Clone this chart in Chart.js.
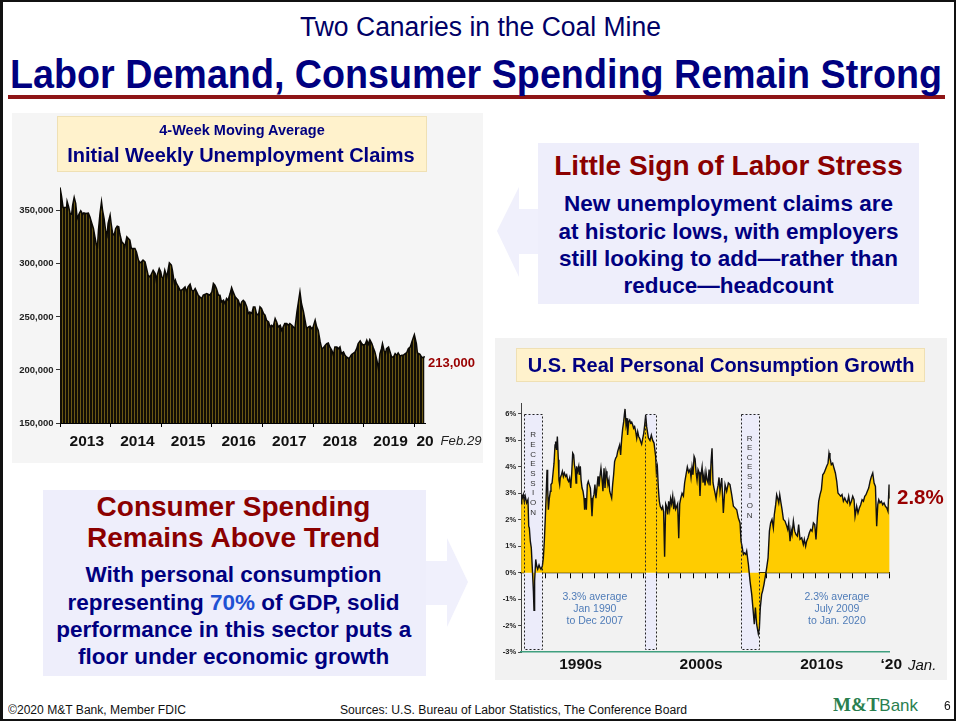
<!DOCTYPE html>
<html><head><meta charset="utf-8">
<script src="https://cdn.jsdelivr.net/npm/chart.js@4.4.1/dist/chart.umd.min.js"></script>
<style>
html,body{margin:0;padding:0;background:#fff;}
body{width:957px;height:722px;position:relative;overflow:hidden;font-family:"Liberation Sans",Arial,sans-serif;}
.abs{position:absolute;}
.t{position:absolute;white-space:nowrap;}
</style></head><body>
<div class="abs" style="left:0;top:0;width:956px;height:721px;border:2px solid #111;border-left-width:3px;box-sizing:border-box;"></div>
<div class="abs" style="left:8px;top:95px;width:937px;height:4px;background:#8e1516;"></div>
<div class="abs" style="left:12px;top:113px;width:471px;height:350px;background:#f5f5f5;"></div>
<div class="abs" style="left:57px;top:116px;width:370px;height:56px;background:#fff2cc;border:1px solid #efe0b4;box-sizing:border-box"></div>
<div class="abs" style="left:495px;top:338px;width:452px;height:342px;background:#f2f2f2;"></div>
<div class="abs" style="left:516px;top:348px;width:409px;height:34px;background:#fff2cc;border:1px solid #efe0b4;box-sizing:border-box"></div>
<div class="abs" style="left:538px;top:143px;width:381px;height:161px;background:#eeeefb;"></div>
<div class="abs" style="left:43px;top:490px;width:383px;height:186px;background:#eeeefb;"></div>
<svg class="abs" style="left:0;top:0" width="957" height="722">
<polygon points="538,209 519,209 519,187 497,231 519,277 519,254 538,254" fill="#f0f0fc"/>
<polygon points="426,561 447,561 447,538 468,582 447,627 447,605 426,605" fill="#f0f0fc"/>
</svg>
<canvas id="c1" width="471" height="350" style="position:absolute;left:12px;top:113px"></canvas>
<canvas id="c2" width="452" height="342" style="position:absolute;left:495px;top:338px"></canvas>
<script>
// ---------------- DATA ----------------
// Initial weekly unemployment claims, 4-week moving average (thousands), dates as decimal years
const claimsDates = [2013.00,2013.03,2013.06,2013.13,2013.14,2013.17,2013.20,2013.23,2013.25,2013.28,2013.31,2013.34,2013.38,2013.41,2013.45,2013.47,2013.51,2013.56,2013.59,2013.62,2013.66,2013.69,2013.72,2013.74,2013.76,2013.79,2013.82,2013.84,2013.87,2013.90,2013.93,2013.95,2013.99,
2014.01,2014.04,2014.07,2014.10,2014.13,2014.16,2014.18,2014.22,2014.25,2014.28,2014.32,2014.35,2014.38,2014.41,2014.48,2014.51,2014.55,2014.58,2014.61,2014.64,2014.68,2014.71,2014.74,2014.78,2014.81,2014.84,2014.88,2014.90,2014.92,2014.96,2014.99,
2015.01,2015.04,2015.07,2015.11,2015.16,2015.20,2015.22,2015.26,2015.28,2015.30,2015.34,2015.37,2015.40,2015.44,2015.47,2015.50,2015.53,2015.57,2015.60,2015.63,2015.67,2015.70,2015.73,2015.76,2015.80,2015.83,2015.90,2015.96,
2016.00,2016.03,2016.06,2016.09,2016.13,2016.16,2016.19,2016.23,2016.26,2016.29,2016.32,2016.36,2016.39,2016.42,2016.46,2016.49,2016.52,2016.56,2016.59,2016.62,2016.65,2016.69,2016.72,2016.75,2016.79,2016.82,2016.85,2016.88,2016.92,2016.95,2016.98,
2017.02,2017.05,2017.08,2017.12,2017.15,2017.18,2017.21,2017.25,2017.28,2017.31,2017.35,2017.38,2017.41,2017.44,2017.48,2017.51,2017.54,2017.58,2017.61,2017.64,2017.68,2017.71,2017.74,2017.77,2017.81,2017.84,2017.87,2017.91,2017.94,2017.97,
2018.00,2018.04,2018.07,2018.10,2018.14,2018.17,2018.20,2018.24,2018.27,2018.30,2018.33,2018.37,2018.40,2018.43,2018.47,2018.50,2018.53,2018.56,2018.60,2018.63,2018.66,2018.70,2018.73,2018.76,2018.80,2018.83,2018.86,2018.89,2018.93,2018.96,2018.99,
2019.03,2019.06,2019.09,2019.12,2019.16,2019.19,2019.22,2019.26,2019.29,2019.32,2019.35,2019.37,2019.40,2019.43,2019.45,2019.49,2019.52,2019.55,2019.59,2019.62,2019.65,2019.68,2019.72,2019.75,2019.78,2019.82,2019.85,2019.88,2019.92,2019.95,2019.98,
2020.00,2020.04,2020.06,2020.09,2020.11,2020.14,2020.18,2020.20];
const claimsK = [372.0,363.9,353.2,353.2,358.8,353.8,347.5,346.9,355.4,362.6,357.0,342.8,347.5,350.0,346.6,348.1,347.5,347.8,344.4,339.6,333.4,325.5,317.6,316.1,331.8,347.5,358.5,350.7,342.8,331.8,327.1,338.1,345.9,
338.1,328.6,327.1,333.4,335.6,334.9,328.6,320.8,319.2,316.1,325.5,323.9,322.3,314.5,314.5,311.3,303.5,301.0,301.9,303.5,301.9,295.6,289.3,287.7,290.9,294.0,290.9,284.6,289.3,295.6,292.5,
287.7,286.2,294.0,287.7,301.0,298.8,294.0,281.5,284.6,281.5,278.3,275.2,275.2,276.7,278.3,273.6,278.3,280.8,275.8,273.6,276.7,273.6,270.5,268.9,267.3,270.5,272.0,270.5,
273.6,281.5,279.9,276.7,270.5,270.5,264.2,265.7,262.6,267.3,265.7,272.0,277.7,273.6,268.9,267.3,265.7,260.1,264.2,265.7,264.2,259.4,253.2,254.7,253.2,259.4,259.4,253.2,251.6,259.4,257.9,
253.2,251.6,246.9,245.3,240.6,242.1,240.6,248.4,245.3,240.6,242.1,237.4,240.6,243.7,243.7,242.1,243.7,242.1,240.6,239.0,254.7,264.2,273.6,262.6,254.7,246.9,239.0,240.6,241.2,239.0,
240.6,246.9,240.6,237.4,226.4,220.1,220.8,223.3,224.9,225.5,221.7,218.6,213.8,221.7,221.7,220.1,221.7,215.4,217.0,213.8,212.3,210.7,212.3,214.5,216.0,217.0,220.1,224.9,227.4,224.9,223.3,
224.2,228.0,224.2,228.6,224.9,220.8,217.0,209.1,201.3,215.4,220.1,224.9,218.6,215.4,220.1,221.7,217.0,212.3,212.3,215.4,213.8,216.0,212.9,213.8,213.8,215.4,216.4,220.1,221.7,226.4,230.5,
233.3,224.9,216.0,215.4,214.8,212.3,211.3,213.0];
const claimsYTicks = [150,200,250,300,350];
const claimsTickYears = [2013,2014,2015,2016,2017,2018,2019,2020];
const claimsYearLabels = ['2013','2014','2015','2016','2017','2018','2019','20'];
const claimsLabelPos = [2013.53,2014.53,2015.53,2016.53,2017.53,2018.53,2019.53,2020.21];

// U.S. real personal consumption growth (% y/y), dates as decimal years
const consDates = [1990.00,1990.05,1990.10,1990.18,1990.26,1990.34,1990.45,1990.56,1990.62,1990.67,1990.75,1990.83,1990.91,1991.00,1991.05,1991.10,1991.19,1991.27,1991.35,1991.46,1991.54,1991.62,1991.73,1991.81,1991.89,1991.97,
1992.05,1992.11,1992.16,1992.22,1992.30,1992.38,1992.43,1992.52,1992.60,1992.68,1992.76,1992.81,1992.89,1992.95,1993.03,1993.08,1993.14,1993.19,1993.28,1993.36,1993.44,1993.52,1993.63,1993.71,1993.79,1993.87,1993.95,
1994.04,1994.12,1994.20,1994.28,1994.34,1994.41,1994.47,1994.52,1994.60,1994.69,1994.74,1994.82,1994.88,1994.96,1995.04,1995.12,1995.17,1995.23,1995.31,1995.39,1995.47,1995.55,1995.64,1995.69,1995.77,1995.85,1995.93,
1996.01,1996.09,1996.17,1996.26,1996.34,1996.42,1996.50,1996.58,1996.66,1996.75,1996.83,1996.91,1996.99,1997.07,1997.15,1997.21,1997.29,1997.37,1997.45,1997.53,1997.61,1997.70,1997.78,1997.86,1997.94,
1998.02,1998.10,1998.19,1998.27,1998.35,1998.40,1998.46,1998.54,1998.62,1998.67,1998.76,1998.84,1998.92,1999.00,1999.08,1999.16,1999.24,1999.33,1999.41,1999.49,1999.57,1999.65,1999.73,1999.81,1999.90,1999.98,
2000.06,2000.14,2000.22,2000.36,2000.49,2000.60,2000.71,2000.82,2000.95,2001.01,2001.09,2001.17,2001.25,2001.33,2001.44,2001.52,2001.60,2001.68,2001.77,2001.85,2001.93,
2002.01,2002.09,2002.17,2002.25,2002.34,2002.42,2002.50,2002.58,2002.66,2002.74,2002.83,2002.91,2002.99,2003.10,2003.21,2003.31,2003.42,2003.53,2003.64,2003.75,2003.83,2003.91,2003.99,
2004.08,2004.16,2004.24,2004.32,2004.40,2004.48,2004.56,2004.64,2004.73,2004.81,2004.89,2004.97,2005.05,2005.14,2005.22,2005.30,2005.38,2005.46,2005.54,2005.62,2005.70,2005.79,2005.87,2005.95,
2006.03,2006.11,2006.19,2006.33,2006.46,2006.60,2006.73,2006.87,2007.00,2007.14,2007.28,2007.41,2007.55,2007.68,2007.82,2007.90,2007.98,2008.09,2008.17,2008.28,2008.36,2008.50,2008.63,2008.77,2008.90,2008.98,
2009.07,2009.17,2009.31,2009.39,2009.47,2009.58,2009.66,2009.77,2009.88,2009.99,2010.10,2010.21,2010.31,2010.42,2010.53,2010.61,2010.72,2010.80,2010.88,2010.97,
2011.05,2011.13,2011.24,2011.35,2011.48,2011.62,2011.70,2011.78,2011.89,2011.97,2012.05,2012.16,2012.27,2012.38,2012.49,2012.59,2012.70,2012.84,2012.97,
2013.05,2013.16,2013.24,2013.35,2013.46,2013.57,2013.68,2013.79,2013.90,2014.00,2014.11,2014.22,2014.33,2014.44,2014.55,2014.66,2014.76,2014.87,2014.98,
2015.06,2015.14,2015.25,2015.36,2015.47,2015.58,2015.69,2015.79,2015.90,2016.01,2016.12,2016.23,2016.34,2016.45,2016.55,2016.66,2016.77,2016.88,2016.99,
2017.10,2017.18,2017.31,2017.42,2017.53,2017.64,2017.75,2017.86,2017.97,2018.07,2018.18,2018.29,2018.40,2018.51,2018.62,2018.73,2018.84,2018.94,
2019.03,2019.11,2019.21,2019.32,2019.43,2019.54,2019.65,2019.76,2019.86,2019.95,2020.00];
const consGrowth = [2.6,2.95,2.82,2.95,2.70,2.89,2.64,2.76,1.76,1.69,1.19,0.94,0.19,-0.69,-1.42,-0.31,0.50,0.25,0.13,0.29,0.19,0.13,0.25,0.56,1.19,2.07,
3.08,3.89,3.26,2.38,2.82,3.08,3.33,3.39,3.77,4.14,4.83,4.96,4.64,5.15,4.27,3.51,3.33,3.58,3.70,3.83,3.64,3.77,3.64,3.70,3.51,3.45,3.58,
3.20,3.77,4.52,4.45,4.08,3.89,3.39,4.02,3.83,4.02,3.70,4.02,3.51,3.20,3.08,2.82,2.38,2.82,2.38,3.33,3.45,3.33,3.20,2.82,2.13,2.82,2.95,
3.33,2.82,3.20,3.64,3.26,3.64,3.95,3.58,3.08,3.95,3.20,3.83,3.64,3.33,3.51,3.08,2.95,2.82,3.33,3.70,4.20,4.33,4.39,4.58,4.71,
4.83,4.45,5.08,5.46,5.71,5.96,6.19,5.59,5.84,5.21,5.71,5.77,5.65,5.69,5.59,5.46,5.52,5.33,5.08,5.33,5.15,5.08,4.96,4.86,5.08,5.27,
5.59,5.96,5.52,5.10,5.00,5.20,5.00,4.90,4.40,3.80,4.00,3.20,2.70,2.50,2.40,2.50,2.30,0.60,2.60,2.50,2.20,
2.70,2.40,2.80,2.60,2.90,2.40,2.70,2.40,2.50,2.60,1.30,2.60,2.80,3.00,2.90,3.40,3.70,4.00,3.80,3.90,3.60,4.00,3.70,
4.40,4.30,3.80,3.50,3.90,3.80,2.90,3.70,4.00,3.40,3.70,3.30,3.80,3.50,3.40,3.90,3.30,4.20,4.70,3.40,3.20,3.00,2.80,3.10,
3.30,3.60,3.08,3.58,2.26,3.33,3.08,3.39,3.33,2.95,2.51,2.45,2.38,2.07,1.88,1.19,1.00,0.69,0.75,0.69,0.82,0.31,-0.31,-0.82,-1.51,-1.95,
-1.32,-1.95,-2.32,-2.13,-1.32,-0.82,-0.69,-0.44,-0.13,0.19,0.56,1.57,1.88,2.01,1.69,2.20,2.57,2.95,2.82,2.64,
2.95,2.70,2.38,2.01,1.95,1.76,1.63,1.88,1.19,1.63,1.44,1.95,1.57,1.44,1.38,1.82,1.26,1.32,1.07,
1.26,1.00,1.19,1.32,1.51,1.63,1.57,1.88,1.82,1.26,2.07,2.70,2.95,3.14,3.70,3.77,3.89,4.02,4.14,
4.52,4.33,4.08,4.14,3.95,3.77,3.45,3.01,2.95,2.89,2.95,2.70,2.82,2.70,2.64,2.89,2.57,2.70,2.89,
2.76,2.13,2.51,2.26,2.45,2.57,2.76,2.70,2.89,2.95,3.08,3.20,3.45,3.64,3.77,3.39,3.26,1.76,
2.57,2.76,2.64,2.70,2.57,2.64,2.51,2.45,2.32,3.33,2.80];
const consYTicks = [-3,-2,-1,0,1,2,3,4,5,6];
const consTickYears = [1990,1991,1992,1993,1994,1995,1996,1997,1998,1999,2000,2001,2002,2003,2004,2005,2006,2007,2008,2009,2010,2011,2012,2013,2014,2015,2016,2017,2018,2019,2020];
const decadeLabels = ['1990s','2000s','2010s','\u201820'];
const decadeLabelPos = [1994.85,2004.65,2014.47,2020.13];
const recessionStart = [1990.24,2000.06,2007.88];
const recessionEnd   = [1991.70,2000.96,2009.34];
const recessionLabelTop = [5.2,null,5.08];
const avgNoteLines = [['3.3% average','Jan 1990','to Dec 2007'],['2.3% average','July 2009','to Jan. 2020']];
const avgNoteX = [1996.0,2015.7];
const avgNoteY = [-0.92,-0.92];

// ---------------- TEXT ----------------
const SANS = '"Liberation Sans",Arial,sans-serif';
const NARROW = '"Liberation Sans Narrow","Arial Narrow","Liberation Sans",Arial,sans-serif';
const NAVY = '#000080', RED = '#8b0000';
function addText(o){
  const d=document.createElement('div');
  d.className='t';
  if(o.html) d.innerHTML=o.html; else d.textContent=o.t;
  d.style.font=(o.it?'italic ':'')+(o.b?'bold ':'')+o.s+'px '+(o.f||SANS);
  d.style.color=o.c||'#111'; d.style.lineHeight=o.s+'px';
  document.body.appendChild(d);
  const w=d.getBoundingClientRect().width; const sc=o.w? o.w/w : 1; const W=w*sc;
  const left = o.a==='c'? o.x-W/2 : (o.a==='r'? o.x-W : o.x);
  d.style.left=left+'px'; d.style.top=(o.y-o.s/2)+'px';
  if(sc!==1){ d.style.transformOrigin='0 50%'; d.style.transform='scaleX('+sc+')'; }
}
[
 {t:'Two Canaries in the Coal Mine', x:480, y:27, s:27, f:NARROW, c:'#000066', a:'c', w:361},
 {t:'Labor Demand, Consumer Spending Remain Strong', x:476, y:74, s:41, b:1, f:NARROW, c:NAVY, a:'c', w:932},
 {t:'4-Week Moving Average', x:242, y:130, s:14.5, b:1, c:NAVY, a:'c'},
 {t:'Initial Weekly Unemployment Claims', x:241, y:155, s:20, b:1, c:NAVY, a:'c'},
 {t:'213,000', x:428, y:362, s:13, b:1, c:'#990000', a:'l'},
 {t:'Feb.29', x:440.5, y:441, s:13.2, it:1, c:'#222', a:'l'},
 {t:'U.S. Real Personal Consumption Growth', x:721, y:365, s:20, b:1, c:NAVY, a:'c'},
 {t:'2.8%', x:897, y:497, s:20.5, b:1, c:'#990000', a:'l'},
 {t:'Jan.', x:908, y:664, s:15, it:1, c:'#111', a:'l'},
 {t:'Little Sign of Labor Stress', x:728.5, y:166, s:28, b:1, c:RED, a:'c'},
 {t:'New unemployment claims are', x:728.5, y:204, s:22.5, b:1, c:NAVY, a:'c'},
 {t:'at historic lows, with employers', x:728.5, y:232, s:22.5, b:1, c:NAVY, a:'c'},
 {t:'still looking to add\u2014rather than', x:728.5, y:259, s:22.5, b:1, c:NAVY, a:'c'},
 {t:'reduce\u2014headcount', x:728.5, y:286, s:22.5, b:1, c:NAVY, a:'c'},
 {t:'Consumer Spending', x:233.5, y:507, s:28, b:1, c:RED, a:'c'},
 {t:'Remains Above Trend', x:233.5, y:538, s:28, b:1, c:RED, a:'c'},
 {t:'With personal consumption', x:233.5, y:575, s:22.5, b:1, c:NAVY, a:'c'},
 {html:'representing <span style="color:#1f52d4">70%</span> of GDP, solid', x:233.5, y:603, s:22.5, b:1, c:NAVY, a:'c'},
 {t:'performance in this sector puts a', x:233.8, y:630, s:22.5, b:1, c:NAVY, a:'c'},
 {t:'floor under economic growth', x:233.7, y:657, s:22.5, b:1, c:NAVY, a:'c'},
 {t:'\u00a92020 M&T Bank, Member FDIC', x:8, y:710, s:12.5, f:NARROW, c:'#111', a:'l', w:178},
 {t:'Sources:  U.S. Bureau of Labor Statistics, The Conference Board', x:340, y:710, s:12.5, f:NARROW, c:'#111', a:'l', w:347},
 {html:'<span style="font:bold 19px \'Liberation Serif\',\'Times New Roman\',serif">M&amp;T</span><span style="font:17px '+NARROW.replace(/"/g,"'")+'">Bank</span>', x:833, y:703, s:18, c:'#2a7f4f', a:'l', w:85},
 {t:'6', x:944, y:706, s:12, c:'#111', a:'l'}
].forEach(addText);

// ---------------- CHARTS ----------------
Chart.defaults.font.family = SANS;
const pc=document.createElement('canvas'); pc.width=3; pc.height=1;
const pg=pc.getContext('2d'); pg.fillStyle='#110e06'; pg.fillRect(0,0,3,1); pg.fillStyle='#6a5814'; pg.fillRect(2,0,1,1);
const stripe=pg.createPattern(pc,'repeat');

new Chart(document.getElementById('c1'), {
  type:'line',
  data:{datasets:[{data:claimsDates.map((d,i)=>({x:d,y:claimsK[i]})), borderColor:'#0a0803', borderWidth:1.5,
    backgroundColor:stripe, fill:'start', pointRadius:0, tension:0}]},
  options:{responsive:false, animation:false, devicePixelRatio:1,
    layout:{padding:{left:0,top:66,right:58,bottom:0}},
    plugins:{legend:{display:false}, tooltip:{enabled:false}},
    scales:{
      x:{type:'linear', position:'bottom', min:2013, max:2020.21, weight:0,
        afterBuildTicks:s=>{s.ticks=claimsTickYears.map(v=>({value:v}));},
        afterFit:s=>{s.height=0;},
        ticks:{display:false},
        grid:{display:true, drawOnChartArea:false, drawTicks:true, tickLength:4, color:'#000', lineWidth:1},
        border:{display:true, color:'#000', width:1}},
      xl:{type:'linear', axis:'x', position:'bottom', min:2013, max:2020.21, weight:1,
        afterBuildTicks:s=>{s.ticks=claimsLabelPos.map(v=>({value:v}));},
        afterFit:s=>{s.height=40;},
        ticks:{autoSkip:false, maxRotation:0, padding:9, color:'#111', font:{size:15.5, weight:'bold'},
          callback:v=>claimsYearLabels[claimsLabelPos.indexOf(v)]},
        grid:{display:false, drawTicks:false, tickLength:0}, border:{display:false}},
      y:{type:'linear', min:150, max:380,
        afterBuildTicks:s=>{s.ticks=claimsYTicks.map(v=>({value:v}));},
        afterFit:s=>{s.width=48;},
        ticks:{padding:2.5, color:'#222', font:{size:9.5, weight:'bold'}, callback:v=>(v*1000).toLocaleString('en-US')},
        grid:{drawOnChartArea:false, drawTicks:true, tickLength:4, color:'#333'},
        border:{display:false}}
    }}
});

const recPlugin = {
  id:'rec',
  beforeDatasetsDraw(chart){
    const {ctx, scales:{x,y}} = chart;
    ctx.save(); ctx.fillStyle='#ececfa';
    recessionStart.forEach((a,i)=>{
      const x1=x.getPixelForValue(a), x2=x.getPixelForValue(recessionEnd[i]);
      const y1=y.getPixelForValue(6), y2=y.getPixelForValue(-3)-2;
      ctx.fillRect(x1,y1,x2-x1,y2-y1);
    });
    ctx.restore();
  },
  afterDatasetsDraw(chart){
    const {ctx, scales:{x,y}} = chart;
    ctx.save();
    ctx.strokeStyle='#222'; ctx.lineWidth=1; ctx.setLineDash([2,2]);
    recessionStart.forEach((a,i)=>{
      const x1=Math.round(x.getPixelForValue(a))+0.5, x2=Math.round(x.getPixelForValue(recessionEnd[i]))+0.5;
      const y1=Math.round(y.getPixelForValue(6))+0.5, y2=Math.round(y.getPixelForValue(-3))-2.5;
      ctx.strokeRect(x1,y1,x2-x1,y2-y1);
    });
    ctx.setLineDash([]);
    ctx.fillStyle='#333'; ctx.font='8px '+SANS; ctx.textAlign='center'; ctx.textBaseline='middle';
    recessionStart.forEach((a,i)=>{
      if(recessionLabelTop[i]==null) return;
      const cx=(x.getPixelForValue(a)+x.getPixelForValue(recessionEnd[i]))/2;
      const ty=y.getPixelForValue(recessionLabelTop[i]);
      'RECESSION'.split('').forEach((ch,k)=>ctx.fillText(ch,cx,ty+k*9.65));
    });
    ctx.fillStyle='#4f7cb8'; ctx.font='10.5px '+SANS;
    avgNoteLines.forEach((lines,i)=>{
      const cx=x.getPixelForValue(avgNoteX[i]), cy=y.getPixelForValue(avgNoteY[i]);
      lines.forEach((ln,k)=>ctx.fillText(ln,cx,cy+k*12.3));
    });
    ctx.restore();
  }
};

new Chart(document.getElementById('c2'), {
  type:'line',
  data:{datasets:[{data:consDates.map((d,i)=>({x:d,y:consGrowth[i]})), borderColor:'#111', borderWidth:1.4,
    backgroundColor:'#ffcc00', fill:'origin', pointRadius:0, tension:0}]},
  options:{responsive:false, animation:false, devicePixelRatio:1,
    layout:{padding:{left:0,top:65.4,right:57.3,bottom:0}},
    plugins:{legend:{display:false}, tooltip:{enabled:false}},
    scales:{
      y:{type:'linear', min:-3, max:6.4,
        afterBuildTicks:s=>{s.ticks=consYTicks.map(v=>({value:v}));},
        afterFit:s=>{s.width=26.1;},
        ticks:{padding:2, color:'#222', font:{size:7.5, weight:'bold'}, callback:v=>v+'%'},
        grid:{drawOnChartArea:false, drawTicks:true, tickLength:3, color:'#444'},
        border:{display:true, color:'#444', width:1}},
      x:{type:'linear', position:{y:0}, min:1990, max:2020, z:1,
        afterBuildTicks:s=>{s.ticks=consTickYears.map(v=>({value:v}));},
        ticks:{display:false},
        grid:{display:true, drawOnChartArea:false, drawTicks:true, tickLength:5, color:'#000'},
        border:{display:true, color:'#000', width:1.3}},
      xd:{type:'linear', axis:'x', position:'bottom', min:1990, max:2020,
        afterBuildTicks:s=>{s.ticks=decadeLabelPos.map(v=>({value:v}));},
        afterFit:s=>{s.height=28;},
        ticks:{autoSkip:false, maxRotation:0, padding:3, color:'#111', font:{size:15.5, weight:'bold'},
          callback:v=>decadeLabels[decadeLabelPos.indexOf(v)]},
        grid:{display:false, drawTicks:false, tickLength:0},
        border:{display:true, color:'#3f9f7f', width:1.5}}
    }},
  plugins:[recPlugin]
});
</script>
</body></html>
